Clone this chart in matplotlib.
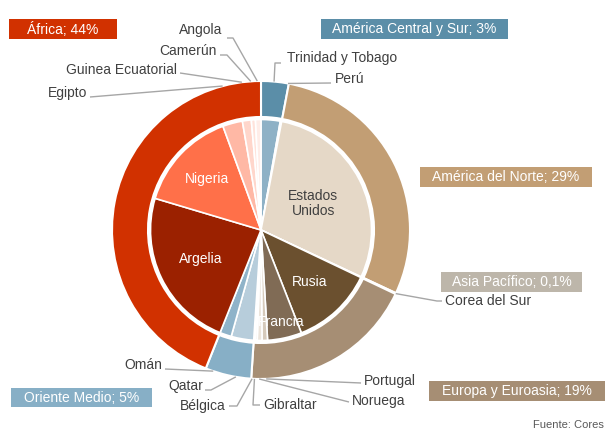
import numpy as np
import matplotlib
matplotlib.use("Agg")
import matplotlib.pyplot as plt
from matplotlib.patches import Rectangle

# ---------------- data ----------------
regions = ["América Central y Sur", "América del Norte", "Asia Pacífico",
           "Europa y Euroasia", "Oriente Medio", "África"]
region_pct = [3, 29, 0.1, 19, 5, 44]
region_pct_labels = ["3%", "29%", "0,1%", "19%", "5%", "44%"]
region_colors = ["#5B8EA8", "#C29E74", "#BDB6AA", "#A68E74", "#87AFC6", "#D13100"]

countries = ["Trinidad y Tobago", "Perú", "Estados Unidos", "Corea del Sur",
             "Rusia", "Francia", "Portugal", "Noruega", "Gibraltar", "Bélgica",
             "Qatar", "Omán", "Argelia", "Nigeria", "Egipto",
             "Guinea Ecuatorial", "Camerún", "Angola"]
country_pct = [2.8, 0.2, 29, 0.1, 12.0, 5.0, 0.8, 0.7, 0.3, 0.2,
               3.3, 1.7, 23.6, 14.8, 2.9, 1.3, 0.6, 0.8]
country_colors = ["#8EB1C6", "#3F7090", "#E5D8C7", "#BDB6AA", "#6B502F", "#806B55",
                  "#D6CABB", "#ECE5DC", "#F4EFE9", "#E0D6CA", "#B7CDDB", "#8FB3C9",
                  "#9B2100", "#FF7049", "#FFB8A5", "#FFD6CB", "#FFE3DB", "#FFEDE8"]

source_text = "Fuente: Cores"

# ---------------- layout (pixel units) ----------------
W, H = 613, 432
CX, CY = 261, 230
R_OUT, R_RING_IN, R_IN = 149, 113, 110.5
TXT = "#404040"
LINE = "#A6A6A6"
FONT = "Liberation Sans"

def py(y):
    return H - y

fig = plt.figure(figsize=(W / 100, H / 100), dpi=100)
ax = fig.add_axes([0, 0, 1, 1])

outer, _ = ax.pie(region_pct, radius=R_OUT, center=(CX, py(CY)),
                  startangle=90, counterclock=False, colors=region_colors,
                  wedgeprops=dict(width=R_OUT - R_RING_IN, edgecolor="white", linewidth=1.5))
inner, _ = ax.pie(country_pct, radius=R_IN, center=(CX, py(CY)),
                  startangle=90, counterclock=False, colors=country_colors,
                  wedgeprops=dict(edgecolor="white", linewidth=1.2))

ax.set_xlim(0, W)
ax.set_ylim(0, H)
ax.set_aspect("auto")
ax.axis("off")

def mid_point(wedge, r):
    a = np.deg2rad((wedge.theta1 + wedge.theta2) / 2)
    return CX + r * np.cos(a), py(CY) + r * np.sin(a)

# inside labels: (country, radius fraction, text, color)
inside = [("Nigeria", 0.67, "Nigeria", "white"),
          ("Argelia", 0.61, "Argelia", "white"),
          ("Estados Unidos", 0.53, "Estados\nUnidos", TXT),
          ("Rusia", 0.64, "Rusia", "white"),
          ("Francia", 0.85, "Francia", "white")]
for name, rf, txt, col in inside:
    w = inner[countries.index(name)]
    x, y = mid_point(w, R_IN * rf)
    ax.text(x, y, txt, ha="center", va="center", fontsize=10, color=col,
            family=FONT, linespacing=1.15)

# outside labels: country, text x, text y, ha, line start (x, y), elbow x
outside = [("Angola", 222, 30, "right", 227, 38, 233),
           ("Camerún", 217, 51, "right", 220, 55, 227),
           ("Guinea Ecuatorial", 177, 70, "right", 180, 73, 180),
           ("Egipto", 87, 93, "right", 90, 97, 90),
           ("Trinidad y Tobago", 287, 58, "left", 281, 63, 275),
           ("Perú", 335, 79, "left", 331, 83, 331),
           ("Corea del Sur", 445, 301, "left", 442, 301, 437),
           ("Portugal", 364, 381, "left", 361, 383, 361),
           ("Noruega", 352, 401, "left", 349, 402, 349),
           ("Gibraltar", 263, 405, "left", 260, 405, 253),
           ("Bélgica", 226, 406, "right", 229, 406, 237),
           ("Qatar", 203, 386, "right", 205, 390, 211),
           ("Omán", 162, 365, "right", 165, 369, 165)]
for name, tx, ty, ha, lx, ly, ex in outside:
    w = inner[countries.index(name)]
    axp, ayp = mid_point(w, R_OUT)
    ax.plot([lx, ex, axp], [py(ly), py(ly), ayp], color=LINE, lw=1.0,
            solid_capstyle="butt", zorder=1)
    ax.text(tx, py(ty), name, ha=ha, va="center", fontsize=10, color=TXT, family=FONT)

# region boxes: x0, y0, x1, y1
boxes = [(321, 19, 508, 39), (420, 167, 592, 187), (441, 272, 582, 292),
         (429, 381, 605, 401), (11, 388, 152, 407), (9, 19, 117, 39)]
for (x0, y0, x1, y1), name, lab, col in zip(boxes, regions, region_pct_labels, region_colors):
    ax.add_patch(Rectangle((x0, py(y1)), x1 - x0, y1 - y0, facecolor=col,
                           edgecolor="none", zorder=3))
    ax.text((x0 + x1) / 2, py((y0 + y1) / 2), f"{name}; {lab}", ha="center",
            va="center", fontsize=10, color="white", family=FONT, zorder=4)

ax.text(604, py(425), source_text, ha="right", va="center", fontsize=8,
        color="#595959", family=FONT)

fig.savefig("out.png", dpi=100)
